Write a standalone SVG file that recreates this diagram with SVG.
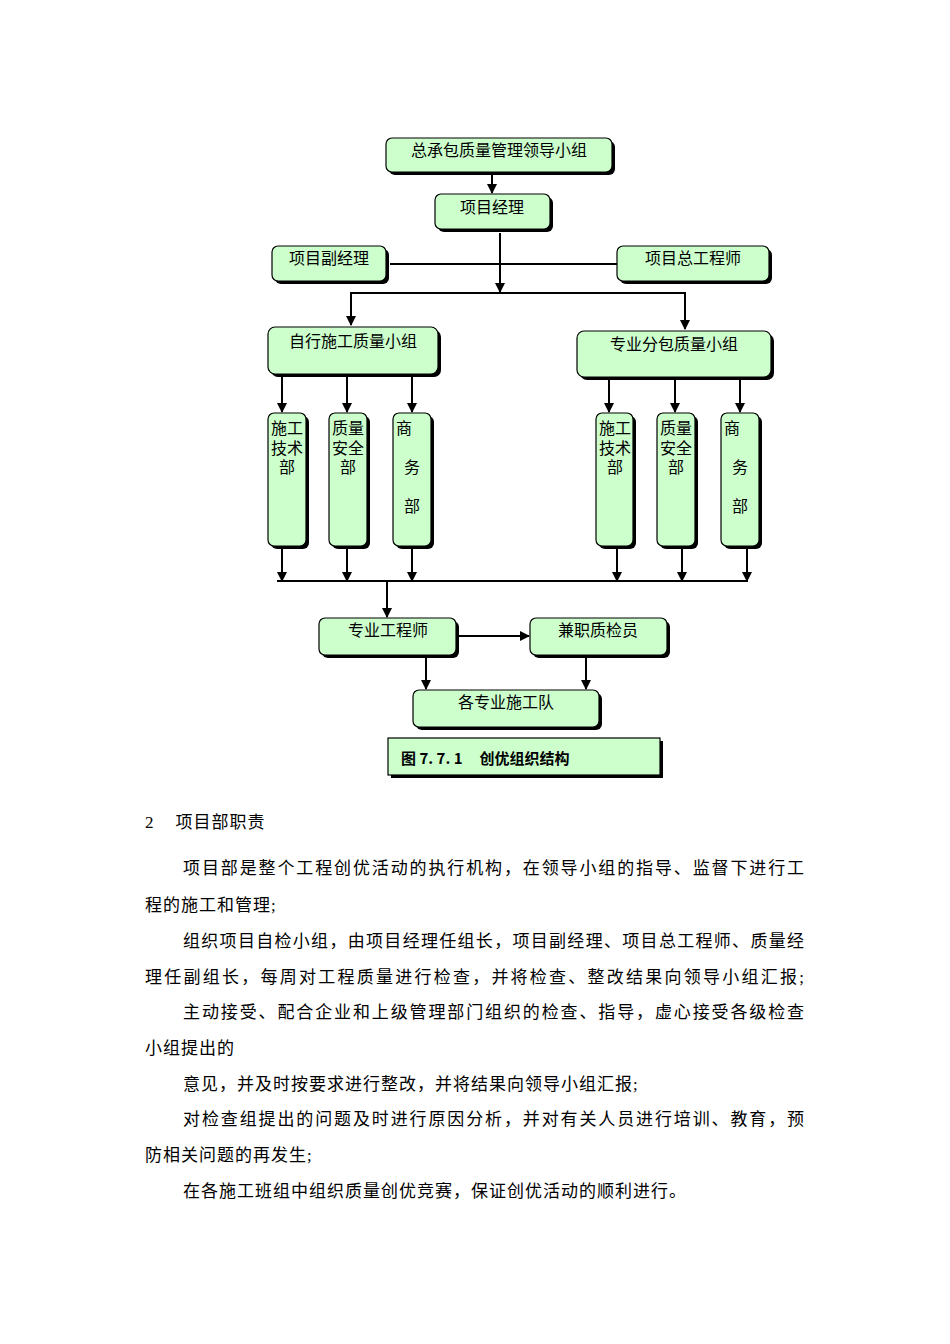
<svg xmlns="http://www.w3.org/2000/svg" width="950" height="1344" viewBox="0 0 950 1344">
<defs>
<style>
.n{fill:#ccffcc;stroke:#000;stroke-width:1.2}
.s{fill:#000}
.t{font-family:"Liberation Serif","Noto Sans CJK SC",serif;font-size:16px;fill:#000}
.b{font-family:"Liberation Serif","Noto Sans CJK SC",serif;font-size:17px;fill:#000;letter-spacing:1px}
.c line,.c polyline{stroke:#000;stroke-width:2;fill:none}
</style>
<marker id="a" viewBox="0 0 10 10" refX="9" refY="5" markerWidth="5" markerHeight="5" orient="auto"><path d="M0,0L10,5L0,10z" fill="#000"/></marker>
</defs>
<rect width="950" height="1344" fill="#fff"/>
<g class="c">
<line x1="492" y1="172" x2="492" y2="193" marker-end="url(#a)"/>
<line x1="390" y1="264" x2="617" y2="264"/>
<line x1="500" y1="233" x2="500" y2="292" marker-end="url(#a)"/>
<polyline points="351,325 351,293 685,293 685,329" marker-end="url(#a)"/>
<line x1="351" y1="300" x2="351" y2="325" marker-end="url(#a)"/>
<line x1="282" y1="377" x2="282" y2="412" marker-end="url(#a)"/>
<line x1="347" y1="377" x2="347" y2="412" marker-end="url(#a)"/>
<line x1="412" y1="377" x2="412" y2="412" marker-end="url(#a)"/>
<line x1="609" y1="379" x2="609" y2="412" marker-end="url(#a)"/>
<line x1="675" y1="379" x2="675" y2="412" marker-end="url(#a)"/>
<line x1="740" y1="379" x2="740" y2="412" marker-end="url(#a)"/>
<line x1="282" y1="548" x2="282" y2="581" marker-end="url(#a)"/>
<line x1="347" y1="548" x2="347" y2="581" marker-end="url(#a)"/>
<line x1="412" y1="548" x2="412" y2="581" marker-end="url(#a)"/>
<line x1="617" y1="548" x2="617" y2="581" marker-end="url(#a)"/>
<line x1="682" y1="548" x2="682" y2="581" marker-end="url(#a)"/>
<line x1="747" y1="548" x2="747" y2="581" marker-end="url(#a)"/>
<line x1="277" y1="581" x2="748" y2="581"/>
<line x1="387" y1="581" x2="387" y2="617" marker-end="url(#a)"/>
<line x1="457" y1="636" x2="529" y2="636" marker-end="url(#a)"/>
<line x1="426" y1="656" x2="426" y2="689" marker-end="url(#a)"/>
<line x1="586" y1="656" x2="586" y2="689" marker-end="url(#a)"/>
</g>
<g id="n1"><rect class="s" x="389" y="141" width="226" height="34" rx="6"/><rect class="n" x="386" y="138" width="226" height="34" rx="6"/><text class="t" x="499" y="156" text-anchor="middle">总承包质量管理领导小组</text></g>
<g id="n2"><rect class="s" x="438" y="197" width="115" height="35" rx="6"/><rect class="n" x="435" y="194" width="115" height="35" rx="6"/><text class="t" x="492" y="213" text-anchor="middle">项目经理</text></g>
<g id="n3"><rect class="s" x="275" y="249" width="114" height="35" rx="6"/><rect class="n" x="272" y="246" width="114" height="35" rx="6"/><text class="t" x="329" y="264" text-anchor="middle">项目副经理</text></g>
<g id="n4"><rect class="s" x="620" y="249" width="152" height="35" rx="6"/><rect class="n" x="617" y="246" width="152" height="35" rx="6"/><text class="t" x="693" y="264" text-anchor="middle">项目总工程师</text></g>
<g id="n5"><rect class="s" x="271" y="330" width="170" height="47" rx="7"/><rect class="n" x="268" y="327" width="170" height="47" rx="7"/><text class="t" x="353" y="347" text-anchor="middle">自行施工质量小组</text></g>
<g id="n6"><rect class="s" x="580" y="334" width="194" height="46" rx="7"/><rect class="n" x="577" y="331" width="194" height="46" rx="7"/><text class="t" x="674" y="350" text-anchor="middle">专业分包质量小组</text></g>
<g id="d1"><rect class="s" x="271" y="416" width="38" height="133" rx="6"/><rect class="n" x="268" y="413" width="38" height="133" rx="6"/><text class="t" x="287" y="434" text-anchor="middle">施工</text><text class="t" x="287" y="454" text-anchor="middle">技术</text><text class="t" x="287" y="473" text-anchor="middle">部</text></g>
<g id="d2"><rect class="s" x="332" y="416" width="38" height="133" rx="6"/><rect class="n" x="329" y="413" width="38" height="133" rx="6"/><text class="t" x="348" y="434" text-anchor="middle">质量</text><text class="t" x="348" y="454" text-anchor="middle">安全</text><text class="t" x="348" y="473" text-anchor="middle">部</text></g>
<g id="d3"><rect class="s" x="396" y="416" width="38" height="133" rx="6"/><rect class="n" x="393" y="413" width="38" height="133" rx="6"/><text class="t" x="396" y="434">商</text><text class="t" x="412" y="473" text-anchor="middle">务</text><text class="t" x="412" y="512" text-anchor="middle">部</text></g>
<g id="d4"><rect class="s" x="599" y="416" width="37" height="133" rx="6"/><rect class="n" x="596" y="413" width="37" height="133" rx="6"/><text class="t" x="615" y="434" text-anchor="middle">施工</text><text class="t" x="615" y="454" text-anchor="middle">技术</text><text class="t" x="615" y="473" text-anchor="middle">部</text></g>
<g id="d5"><rect class="s" x="660" y="416" width="38" height="133" rx="6"/><rect class="n" x="657" y="413" width="38" height="133" rx="6"/><text class="t" x="676" y="434" text-anchor="middle">质量</text><text class="t" x="676" y="454" text-anchor="middle">安全</text><text class="t" x="676" y="473" text-anchor="middle">部</text></g>
<g id="d6"><rect class="s" x="724" y="416" width="38" height="133" rx="6"/><rect class="n" x="721" y="413" width="38" height="133" rx="6"/><text class="t" x="724" y="434">商</text><text class="t" x="740" y="473" text-anchor="middle">务</text><text class="t" x="740" y="512" text-anchor="middle">部</text></g>
<g id="n7"><rect class="s" x="322" y="621" width="137" height="37" rx="6"/><rect class="n" x="319" y="618" width="137" height="37" rx="6"/><text class="t" x="388" y="636" text-anchor="middle">专业工程师</text></g>
<g id="n8"><rect class="s" x="533" y="621" width="137" height="37" rx="6"/><rect class="n" x="530" y="618" width="137" height="37" rx="6"/><text class="t" x="598" y="636" text-anchor="middle">兼职质检员</text></g>
<g id="n9"><rect class="s" x="416" y="693" width="186" height="37" rx="6"/><rect class="n" x="413" y="690" width="186" height="37" rx="6"/><text class="t" x="506" y="708" text-anchor="middle">各专业施工队</text></g>
<g id="cap"><rect class="s" x="391" y="741" width="272" height="37"/><rect class="n" x="388" y="738" width="272" height="37"/><text x="401" y="764" xml:space="preserve" style="font-family:'Noto Sans CJK SC',sans-serif;font-size:15px;font-weight:bold">图 7. 7. 1     创优组织结构</text></g>
<g id="body">
<text class="b" x="145" y="828" xml:space="preserve">2    项目部职责</text>
<text class="b" x="183" y="874" textLength="622" lengthAdjust="spacing">项目部是整个工程创优活动的执行机构，在领导小组的指导、监督下进行工</text>
<text class="b" x="145" y="911">程的施工和管理;</text>
<text class="b" x="183" y="947" textLength="622" lengthAdjust="spacing">组织项目自检小组，由项目经理任组长，项目副经理、项目总工程师、质量经</text>
<text class="b" x="145" y="983" textLength="660" lengthAdjust="spacing">理任副组长，每周对工程质量进行检查，并将检查、整改结果向领导小组汇报;</text>
<text class="b" x="183" y="1018" textLength="622" lengthAdjust="spacing">主动接受、配合企业和上级管理部门组织的检查、指导，虚心接受各级检查</text>
<text class="b" x="145" y="1054">小组提出的</text>
<text class="b" x="183" y="1090">意见，并及时按要求进行整改，并将结果向领导小组汇报;</text>
<text class="b" x="183" y="1125" textLength="622" lengthAdjust="spacing">对检查组提出的问题及时进行原因分析，并对有关人员进行培训、教育，预</text>
<text class="b" x="145" y="1161">防相关问题的再发生;</text>
<text class="b" x="183" y="1197">在各施工班组中组织质量创优竞赛，保证创优活动的顺利进行。</text>
</g>
</svg>
